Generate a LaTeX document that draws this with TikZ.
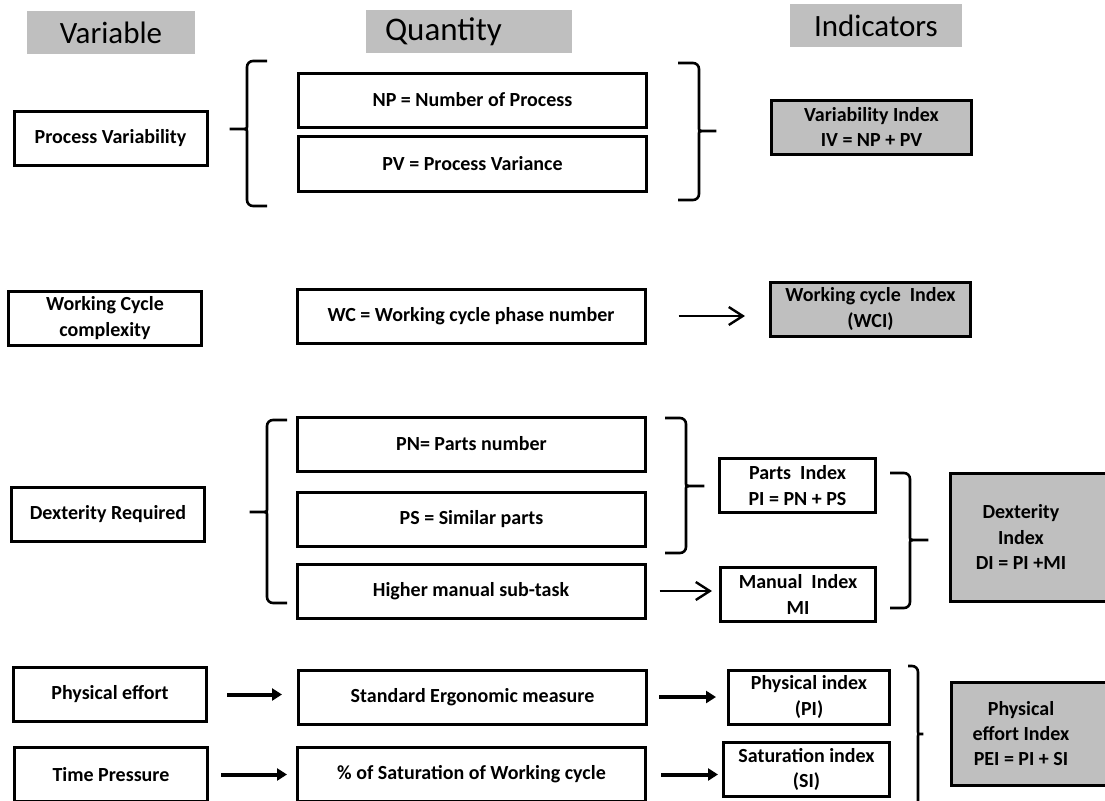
\documentclass[tikz,border=0pt]{standalone}
\usepackage{fontspec}
\setmainfont{Carlito}
\usetikzlibrary{arrows.meta}
\definecolor{boxgray}{RGB}{191,191,191}
% brace: ends, spine, tip, top, bottom, height of the tip
\newcommand{\brak}[6]{%
  \draw[brak] (#1,#4) -- (#2,#4) -- (#2,#6-8) .. controls (#2,#6) .. (#3,#6)
    .. controls (#2,#6) .. (#2,#6+8) -- (#2,#5) -- (#1,#5);}
\tikzset{
  txt/.style={font=\bfseries\fontsize{10}{12.7}\selectfont, align=center},
  var/.style={txt, draw, line width=1.5pt, minimum width=96.5pt, minimum height=27pt,
    inner sep=0pt},
  qty/.style={var, minimum width=174pt},
  ind/.style={var, fill=boxgray, minimum width=100pt},
  hdr/.style={fill=boxgray, minimum height=21.5pt, font=\fontsize{15.5}{18}\selectfont},
  brak/.style={line width=1.3pt, rounded corners=3pt},
  thinarr/.style={line width=1.2pt, -{Straight Barb[length=7pt,width=9pt]}},
  thickarr/.style={line width=2pt, -{Triangle[length=5pt,width=6pt]}},
}
\begin{document}
\begin{tikzpicture}[x=0.5pt,y=-0.5pt]
  \useasboundingbox (0,0) rectangle (1105,800);
  \clip (0,0) rectangle (1105,800);
  % titres
  \node[hdr, minimum width=84pt] (hvar) at (111,32.5) {Variable};
  \node[hdr, font=\fontsize{16.5}{18}\selectfont, inner xsep=9.5pt, text width=84pt,
    align=left] (hqty) at (469,31.5) {Quantity};
  \node[hdr, minimum width=86pt] (hind) at (876,25.5) {Indicators};
  % process variability
  \node[var] (pvar) at (110.5,138.5) {Process Variability};
  \node[qty] (np) at (472.5,100) {NP = Number of Process};
  \node[qty, minimum height=27.5pt] (pv) at (472.5,164) {PV = Process Variance};
  \node[ind] (iv) at (871.5,127) {Variability Index\\IV = NP + PV};
  \brak{267}{247}{226}{61}{206}{129}
  \brak{678}{699}{720}{63}{200}{131}
  % working cycle
  \node[var] (wcc) at (105,318) {Working Cycle\\complexity};
  \node[qty] (wc) at (471,316) {WC = Working cycle phase number};
  \node[ind] (wci) at (870.5,309) {Working cycle~ Index\\(WCI)};
  \draw[thinarr, shorten <=16pt, shorten >=12pt] (wc.east) -- (wc.east -| wci.west);
  % dexterity
  \node[var] (dex) at (108,514.5) {Dexterity Required};
  \node[qty] (pn) at (471.5,444) {PN= Parts number};
  \node[qty] (ps) at (471.5,519.5) {PS = Similar parts};
  \node[qty] (hm) at (471,591) {Higher manual sub-task};
  \node[var, minimum width=78pt] (pind) at (797.5,485.5) {Parts~ Index\\PI = PN + PS};
  \node[var, minimum width=77.5pt] (mind) at (798,594.5) {Manual~ Index\\MI};
  \draw[ind] (950,473) rectangle (1115,601);
  \node[txt] (dind) at (1021,537) {Dexterity\\Index\\DI = PI +MI};
  \brak{287}{267}{246}{420}{603}{512}
  \brak{665}{686}{708}{418}{553}{486}
  \brak{890}{910}{932}{473}{608}{540}
  \draw[thinarr, shorten <=6.5pt, shorten >=3.5pt] (hm.east) -- (hm.east -| mind.west);
  % physical effort, time pressure
  \node[var] (pe) at (110,694.5) {Physical effort};
  \node[var] (tp) at (111,774.5) {Time Pressure};
  \node[qty] (sem) at (472.5,697) {Standard Ergonomic measure};
  \node[qty] (sat) at (471.5,774.5) {\% of Saturation of Working cycle};
  \node[var, minimum width=80.5pt] (phi) at (809,697) {Physical index\\(PI)};
  \node[var, minimum width=83pt] (si) at (806.5,769.5) {Saturation index\\(SI)};
  \draw[ind] (951,682) rectangle (1115,785);
  \node[txt] (peind) at (1021,733.5) {Physical\\effort Index\\PEI = PI + SI};
  \brak{908}{918}{927}{666}{840}{734}
  \draw[thickarr, shorten <=9.5pt, shorten >=7.5pt] (pe.east) -- (pe.east -| sem.west);
  \draw[thickarr, shorten <=6pt, shorten >=4.5pt] (tp.east) -- (tp.east -| sat.west);
  \draw[thickarr, shorten <=5.5pt, shorten >=5.5pt] (sem.east) -- (sem.east -| phi.west);
  \draw[thickarr, shorten <=7pt, shorten >=2pt] (sat.east) -- (sat.east -| si.west);
\end{tikzpicture}
\end{document}
